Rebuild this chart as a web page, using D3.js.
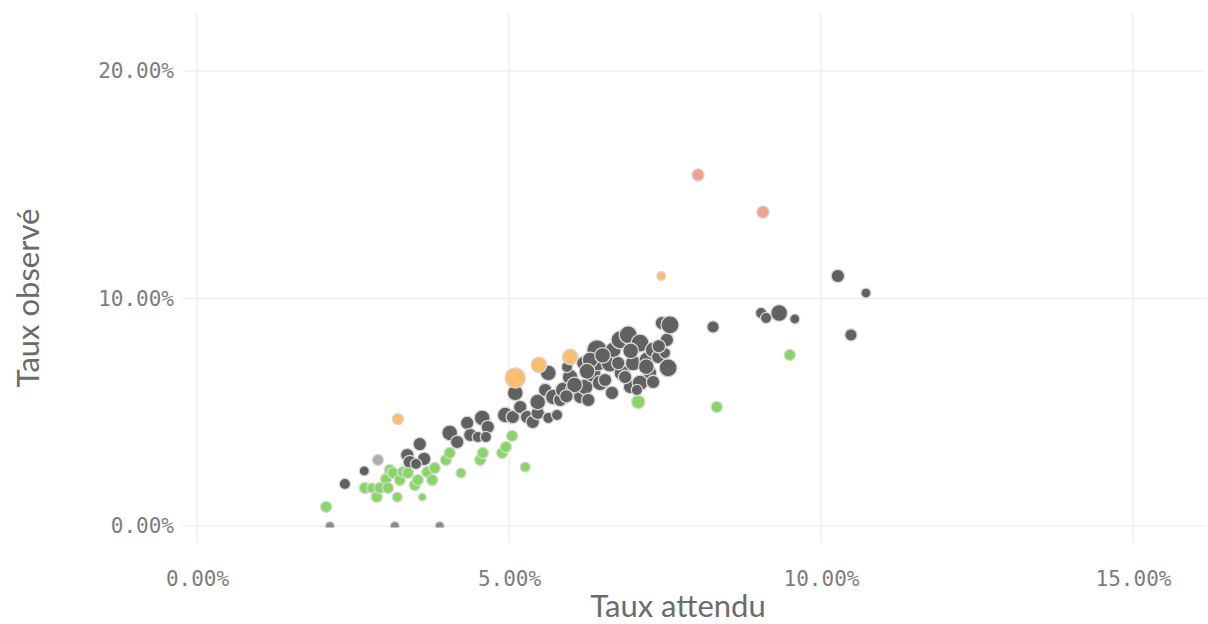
<!DOCTYPE html>
<html><head><meta charset="utf-8">
<script src="https://cdn.jsdelivr.net/npm/d3@7"></script>
<style>
html,body{margin:0;padding:0;background:#fff;}
svg{display:block;}
</style></head>
<body>
<svg id="chart" width="1208" height="624"></svg>
<script>
// Expected rate (%), observed rate (%), volume (bubble size), group
const expected = [
  2.37,2.68,3.37,3.57,3.41,3.64,3.51,4.05,4.17,4.33,4.38,4.50,4.57,4.66,4.63,4.94,5.06,5.10,5.18,5.29,
  5.38,5.46,5.46,5.63,5.63,5.58,5.77,5.71,5.82,5.87,5.98,5.93,6.03,6.14,6.22,6.27,6.33,6.41,6.43,6.46,
  6.54,6.62,6.65,6.67,6.78,6.81,6.91,6.94,6.99,7.10,7.10,7.21,7.26,7.31,7.39,7.45,7.53,7.55,7.58,7.50,
  6.86,6.19,6.30,6.75,7.05,7.31,8.27,9.04,9.12,9.33,9.58,10.27,10.72,10.48,
  6.50,6.95,7.20,6.05,5.92,7.40,6.25,
  2.07,2.69,2.80,2.88,2.93,3.03,3.09,3.06,3.14,3.21,3.25,3.30,3.38,3.49,3.54,3.61,3.69,3.77,3.81,3.99,
  4.05,4.23,4.54,4.58,4.89,4.95,5.05,5.26,7.07,8.33,9.50,
  3.22,5.10,5.48,5.98,7.44,
  8.03,9.07,
  2.90,
  2.13,3.17,3.89
];
const observed = [
  1.85,2.42,3.12,3.60,2.81,2.95,2.73,4.09,3.69,4.53,4.00,3.91,4.75,4.35,3.91,4.88,4.79,5.85,5.23,4.79,
  4.57,4.97,5.45,4.75,6.73,5.98,4.88,5.67,5.54,5.98,6.55,6.99,5.98,5.67,6.11,5.54,6.73,7.74,7.16,6.29,
  6.42,7.16,5.85,7.74,8.18,6.73,8.40,6.11,7.16,8.04,6.29,7.30,6.73,7.74,7.43,8.92,8.18,6.95,8.84,7.60,
  6.55,7.16,7.30,7.16,5.98,6.33,8.75,9.36,9.14,9.36,9.10,10.99,10.24,8.40,
  7.50,7.70,7.00,6.20,5.70,7.90,6.80,
  0.84,1.67,1.67,1.27,1.67,2.07,2.46,1.67,2.33,1.27,2.02,2.37,2.33,1.80,2.02,1.27,2.37,2.02,2.55,2.90,
  3.21,2.33,2.90,3.21,3.21,3.47,3.96,2.59,5.45,5.23,7.52,
  4.70,6.51,7.08,7.43,10.99,
  15.43,13.80,
  2.90,
  0,0,0
];
const volume = [
  25,20,36,36,36,36,25,49,36,36,36,25,49,36,25,49,36,49,36,36,
  36,36,49,25,49,36,25,49,36,49,49,25,49,36,49,36,64,81,49,49,
  36,64,36,49,64,49,64,36,49,64,49,49,36,49,36,36,36,64,64,25,
  36,36,49,36,25,36,30,25,25,56,20,36,20,30,
  49,49,49,49,36,36,49,
  25,25,20,25,25,25,25,25,25,20,25,25,25,25,25,12,25,25,25,25,
  25,20,25,25,25,25,25,20,36,25,25,
  25,81,49,49,16,
  30,30,
  25,
  16,16,16
];
const group = [].concat(
  Array(81).fill("Conforme"),
  Array(31).fill("Inférieur"),
  Array(5).fill("Supérieur"),
  Array(2).fill("Très supérieur"),
  Array(1).fill("Non significatif"),
  Array(3).fill("Nul")
);
const groupNames = ["Conforme","Inférieur","Supérieur","Très supérieur","Non significatif","Nul"];
const groupColors = ["#616161","#87d862","#fbbe6c","#f3a18e","#adadad","#8a8a8a"];
const xTicks = [0, 5, 10, 15];
const yTicks = [0, 10, 20];
const xTitle = "Taux attendu";
const yTitle = "Taux observé";

const svg = d3.select("#chart");
const x = d3.scaleLinear().domain([0, 15]).range([197, 1133]);
const y = d3.scaleLinear().domain([0, 20]).range([526, 71]);
const r = d3.scaleSqrt().domain([0, 100]).range([0, 11.2]);
const color = d3.scaleOrdinal().domain(groupNames).range(groupColors);
const fmt = v => d3.format(".2f")(v) + "%";

const plotLeft = 182, plotRight = 1205, plotTop = 12, plotBottom = 543;

// gridlines
const grid = svg.append("g");
grid.selectAll("line.v").data(xTicks).join("line")
  .attr("x1", d => x(d)).attr("x2", d => x(d))
  .attr("y1", plotTop).attr("y2", plotBottom)
  .attr("stroke", "#e9e9e9").attr("stroke-width", 1);
grid.selectAll("line.h").data(yTicks).join("line")
  .attr("y1", d => y(d)).attr("y2", d => y(d))
  .attr("x1", plotLeft).attr("x2", plotRight)
  .attr("stroke", "#e9e9e9").attr("stroke-width", 1);

// axes (labels only)
const xAxis = d3.axisBottom(x).tickValues(xTicks).tickFormat(fmt).tickSize(0).tickPadding(0);
const gx = svg.append("g").attr("transform", "translate(0,571)").call(xAxis);
gx.select(".domain").remove();
gx.selectAll("text").attr("dy", "0.71em").attr("y", 0);

const yAxis = d3.axisLeft(y).tickValues(yTicks).tickFormat(fmt).tickSize(0).tickPadding(0);
const gy = svg.append("g").attr("transform", "translate(174,0)").call(yAxis);
gy.select(".domain").remove();

svg.selectAll(".tick text")
  .attr("font-family", "'DejaVu Sans Mono', monospace")
  .attr("font-size", 21)
  .attr("fill", "#7d7d7d");

// clip
svg.append("clipPath").attr("id", "clip").append("rect")
  .attr("x", plotLeft).attr("y", plotTop)
  .attr("width", plotRight - plotLeft).attr("height", 527.5 - plotTop);

const pts = expected.map((d, i) => ({x: d, y: observed[i], v: volume[i], g: group[i]}));
svg.append("g").attr("clip-path", "url(#clip)")
  .selectAll("circle").data(pts).join("circle")
  .attr("cx", d => x(d.x)).attr("cy", d => y(d.y))
  .attr("r", d => r(d.v))
  .attr("fill", d => color(d.g))
  .attr("stroke", "#d8d8d8").attr("stroke-width", 1.3);

// titles
svg.append("text").attr("x", 678).attr("y", 617).attr("text-anchor", "middle")
  .attr("font-family", "Lato, sans-serif").attr("font-size", 31).attr("fill", "#6b6b6b")
  .text(xTitle);
svg.append("text").attr("transform", "translate(39,298) rotate(-90)").attr("text-anchor", "middle")
  .attr("font-family", "Lato, sans-serif").attr("font-size", 31).attr("fill", "#6b6b6b")
  .text(yTitle);
</script>
</body></html>
